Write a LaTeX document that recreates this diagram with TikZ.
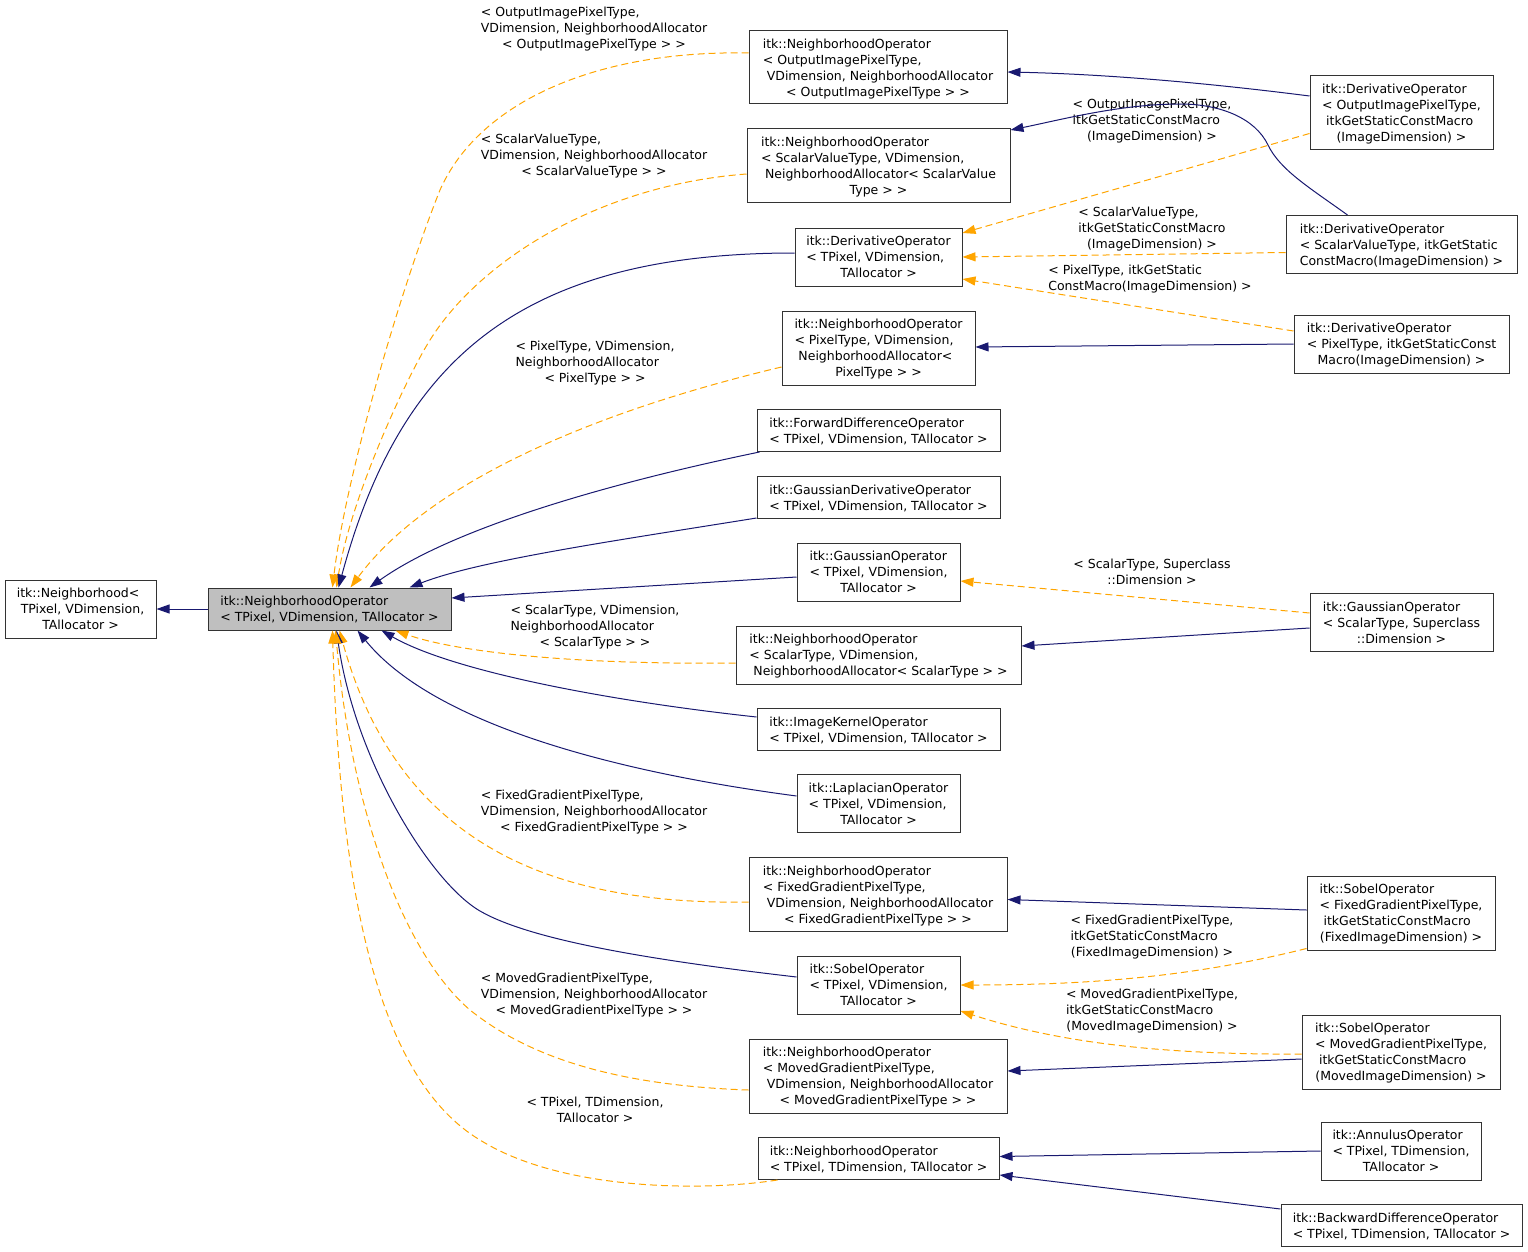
\documentclass[tikz,border=0pt]{standalone}
\usepackage{fontspec}
\newfontfamily\doxfont{DejaVu Sans}
\usepackage{xcolor}
\usetikzlibrary{arrows.meta,calc}
\definecolor{edgeblue}{HTML}{191970}
\definecolor{edgeorange}{HTML}{FFA500}
\definecolor{boxgray}{HTML}{BFBFBF}
% left aligned lines, last line centred
\newcommand{\dlab}[2]{\raisebox{-4.6pt}[0pt][0pt]{\begin{tabular}{@{}l@{}}#1\\\multicolumn{1}{@{}c@{}}{#2}\end{tabular}}}

\begin{document}
\begin{tikzpicture}[
    x=1pt, y=-1pt,
    font=\doxfont\fontsize{12.5}{16}\selectfont,
    classbox/.style={rectangle, draw=black!80, fill=white, line width=1pt, inner sep=0pt},
    basebox/.style={classbox, fill=boxgray},
    edgelabel/.style={inner sep=0pt},
    inherit/.style={-{Triangle[length=13pt,width=9pt]}, color=edgeblue, line width=1pt},
    instance/.style={inherit, color=edgeorange, dash pattern=on 7pt off 4pt}
]
\useasboundingbox (0,0) rectangle (1528,1252);

% base classes
\node[classbox, minimum width=151, minimum height=58] (nbh) at (80.5,609) {\dlab{itk::Neighborhood<\\\ TPixel, VDimension,}{TAllocator >}};
\node[basebox, minimum width=243, minimum height=42] (nbop) at (329.5,609) {\dlab{itk::NeighborhoodOperator}{< TPixel, VDimension, TAllocator >}};

% middle column
\node[classbox, minimum width=258, minimum height=73] (nbopOut) at (878,67.5) {\dlab{itk::NeighborhoodOperator\\< OutputImagePixelType,\\\ VDimension, NeighborhoodAllocator}{< OutputImagePixelType > >}};
\node[classbox, minimum width=263, minimum height=74] (nbopSV) at (878.5,166) {\dlab{itk::NeighborhoodOperator\\< ScalarValueType, VDimension,\\\ NeighborhoodAllocator< ScalarValue}{Type > >}};
\node[classbox, minimum width=167, minimum height=58] (derivT) at (878.5,257) {\dlab{itk::DerivativeOperator\\< TPixel, VDimension,}{TAllocator >}};
\node[classbox, minimum width=193, minimum height=74] (nbopPix) at (878.5,348) {\dlab{itk::NeighborhoodOperator\\< PixelType, VDimension,\\\ NeighborhoodAllocator<}{PixelType > >}};
\node[classbox, minimum width=243, minimum height=42] (fwdDiff) at (878.5,430.5) {\dlab{itk::ForwardDifferenceOperator}{< TPixel, VDimension, TAllocator >}};
\node[classbox, minimum width=243, minimum height=42] (gaussDeriv) at (878.5,497.5) {\dlab{itk::GaussianDerivativeOperator}{< TPixel, VDimension, TAllocator >}};
\node[classbox, minimum width=163, minimum height=58] (gaussT) at (878.5,572) {\dlab{itk::GaussianOperator\\< TPixel, VDimension,}{TAllocator >}};
\node[classbox, minimum width=285, minimum height=58] (nbopScal) at (878.5,655) {\dlab{itk::NeighborhoodOperator\\< ScalarType, VDimension,}{\ NeighborhoodAllocator< ScalarType > >}};
\node[classbox, minimum width=243, minimum height=42] (kernelOp) at (878.5,729.5) {\dlab{itk::ImageKernelOperator}{< TPixel, VDimension, TAllocator >}};
\node[classbox, minimum width=163, minimum height=58] (laplace) at (878.5,803.5) {\dlab{itk::LaplacianOperator\\< TPixel, VDimension,}{TAllocator >}};
\node[classbox, minimum width=258, minimum height=74] (nbopFixed) at (878,894.5) {\dlab{itk::NeighborhoodOperator\\< FixedGradientPixelType,\\\ VDimension, NeighborhoodAllocator}{< FixedGradientPixelType > >}};
\node[classbox, minimum width=163, minimum height=58] (sobelT) at (878.5,985) {\dlab{itk::SobelOperator\\< TPixel, VDimension,}{TAllocator >}};
\node[classbox, minimum width=258, minimum height=74] (nbopMoved) at (878,1076) {\dlab{itk::NeighborhoodOperator\\< MovedGradientPixelType,\\\ VDimension, NeighborhoodAllocator}{< MovedGradientPixelType > >}};
\node[classbox, minimum width=241, minimum height=42] (nbopTDim) at (878.5,1158.5) {\dlab{itk::NeighborhoodOperator}{< TPixel, TDimension, TAllocator >}};

% right column
\node[classbox, minimum width=183, minimum height=74] (derivOut) at (1401.5,112.5) {\dlab{itk::DerivativeOperator\\< OutputImagePixelType,\\\ itkGetStaticConstMacro}{(ImageDimension) >}};
\node[classbox, minimum width=231, minimum height=58] (derivSV) at (1401.5,244.5) {\dlab{itk::DerivativeOperator\\< ScalarValueType, itkGetStatic}{ConstMacro(ImageDimension) >}};
\node[classbox, minimum width=215, minimum height=58] (derivPix) at (1401.5,344) {\dlab{itk::DerivativeOperator\\< PixelType, itkGetStaticConst}{Macro(ImageDimension) >}};
\node[classbox, minimum width=183, minimum height=58] (gaussScal) at (1401.5,622.5) {\dlab{itk::GaussianOperator\\< ScalarType, Superclass}{::Dimension >}};
\node[classbox, minimum width=188, minimum height=74] (sobelFixed) at (1401,913) {\dlab{itk::SobelOperator\\< FixedGradientPixelType,\\\ itkGetStaticConstMacro}{(FixedImageDimension) >}};
\node[classbox, minimum width=198, minimum height=74] (sobelMoved) at (1401,1052) {\dlab{itk::SobelOperator\\< MovedGradientPixelType,\\\ itkGetStaticConstMacro}{(MovedImageDimension) >}};
\node[classbox, minimum width=160, minimum height=58] (annulus) at (1401,1151) {\dlab{itk::AnnulusOperator\\< TPixel, TDimension,}{TAllocator >}};
\node[classbox, minimum width=241, minimum height=42] (bwdDiff) at (1401.5,1225.5) {\dlab{itk::BackwardDifferenceOperator}{< TPixel, TDimension, TAllocator >}};

% template arguments
\node[edgelabel] (lblOut) at (594,28) {\dlab{< OutputImagePixelType,\\VDimension, NeighborhoodAllocator}{< OutputImagePixelType > >}};
\node[edgelabel] (lblSV) at (594,155) {\dlab{< ScalarValueType,\\VDimension, NeighborhoodAllocator}{< ScalarValueType > >}};
\node[edgelabel] (lblPix) at (595,362) {\dlab{< PixelType, VDimension,\\NeighborhoodAllocator}{< PixelType > >}};
\node[edgelabel] (lblScal) at (595,626) {\dlab{< ScalarType, VDimension,\\NeighborhoodAllocator}{< ScalarType > >}};
\node[edgelabel] (lblFixed) at (594,811) {\dlab{< FixedGradientPixelType,\\VDimension, NeighborhoodAllocator}{< FixedGradientPixelType > >}};
\node[edgelabel] (lblMoved) at (594,994) {\dlab{< MovedGradientPixelType,\\VDimension, NeighborhoodAllocator}{< MovedGradientPixelType > >}};
\node[edgelabel] (lblTDim) at (595,1110) {\dlab{< TPixel, TDimension,}{TAllocator >}};
\node[edgelabel] (lblDOut) at (1152,120) {\dlab{< OutputImagePixelType,\\itkGetStaticConstMacro}{(ImageDimension) >}};
\node[edgelabel] (lblDSV) at (1152,228) {\dlab{< ScalarValueType,\\itkGetStaticConstMacro}{(ImageDimension) >}};
\node[edgelabel] (lblDPix) at (1150,278) {\dlab{< PixelType, itkGetStatic}{ConstMacro(ImageDimension) >}};
\node[edgelabel] (lblGauss) at (1152,572) {\dlab{< ScalarType, Superclass}{::Dimension >}};
\node[edgelabel] (lblSFixed) at (1152,936) {\dlab{< FixedGradientPixelType,\\itkGetStaticConstMacro}{(FixedImageDimension) >}};
\node[edgelabel] (lblSMoved) at (1152,1010) {\dlab{< MovedGradientPixelType,\\itkGetStaticConstMacro}{(MovedImageDimension) >}};

% edges to the base class
\draw[inherit] (nbop.west) -- (nbh.east);

% edges into the top of nbop
\draw[instance] ($(nbopOut.west)+(0,-14.5)$) .. controls (600,50) and (480,100) .. (440,190) .. controls (400,290) and (345,480) .. ($(nbop.north west)+(125,0)$);
\draw[instance] ($(nbopSV.west)+(0,8)$) .. controls (600,185) and (480,260) .. (430,340) .. controls (405,380) and (350,500) .. ($(nbop.north west)+(129,0)$);
\draw[inherit] ($(derivT.west)+(0,-4)$) .. controls (520,253) and (400,360) .. ($(nbop.north west)+(131,0)$);
\draw[instance] ($(nbopPix.west)+(0,19)$) .. controls (600,410) and (430,480) .. ($(nbop.north west)+(143,0)$);
\draw[inherit] ($(fwdDiff.south west)+(3,0)$) .. controls (600,485) and (450,530) .. ($(nbop.north west)+(162,0)$);
\draw[inherit] ($(gaussDeriv.south west)+(0,-1)$) .. controls (620,540) and (480,560) .. ($(nbop.north west)+(202,0)$);
\draw[inherit] ($(gaussT.west)+(0,5)$) -- ($(nbop.east)+(0,-11)$);

% edges into the bottom of nbop
\draw[instance] ($(nbopScal.west)+(0,8)$) .. controls (560,665) and (450,650) .. ($(nbop.south west)+(188,0)$);
\draw[inherit] ($(kernelOp.west)+(0,-12.5)$) .. controls (600,700) and (450,670) .. ($(nbop.south west)+(174,0)$);
\draw[inherit] ($(laplace.west)+(0,-7.5)$) .. controls (600,770) and (430,720) .. ($(nbop.south west)+(150,0)$);
\draw[instance] ($(nbopFixed.west)+(0,7.5)$) .. controls (560,905) and (400,850) .. ($(nbop.south west)+(132,0)$);
\draw[inherit] ($(sobelT.west)+(0,-8)$) .. controls (650,960) and (530,940) .. (480,911) .. controls (430,882) and (355,760) .. ($(nbop.south west)+(129,0)$);
\draw[instance] ($(nbopMoved.west)+(0,14)$) .. controls (600,1085) and (520,1050) .. (470,1010) .. controls (400,950) and (350,800) .. ($(nbop.south west)+(128,0)$);
\draw[instance] ($(nbopTDim.south west)+(20,0)$) .. controls (700,1192) and (560,1190) .. (480,1140) .. controls (380,1080) and (340,900) .. ($(nbop.south west)+(125,0)$);

% right column edges
\draw[inherit] ($(derivOut.west)+(0,-16.5)$) .. controls (1200,82) and (1100,74) .. ($(nbopOut.east)+(0,4.5)$);
\draw[inherit] ($(derivSV.north west)+(62,0)$) .. controls (1310,188) and (1280,170) .. (1268,145) .. controls (1255,118) and (1220,104) .. (1180,104) .. controls (1120,104) and (1060,120) .. ($(nbopSV.east)+(0,-36)$);
\draw[instance] ($(derivOut.west)+(0,21)$) -- ($(derivT.east)+(0,-24)$);
\draw[instance] ($(derivSV.west)+(0,8)$) -- (derivT.east);
\draw[instance] ($(derivPix.west)+(0,-13)$) -- ($(derivT.east)+(0,22)$);
\draw[inherit] (derivPix.west) -- ($(nbopPix.east)+(0,-1)$);
\draw[instance] ($(gaussScal.west)+(0,-9.5)$) -- ($(gaussT.east)+(0,9)$);
\draw[inherit] ($(gaussScal.west)+(0,5.5)$) -- ($(nbopScal.east)+(0,-9)$);
\draw[inherit] ($(sobelFixed.west)+(0,-3)$) -- ($(nbopFixed.east)+(0,5)$);
\draw[instance] ($(sobelFixed.south west)+(0,-2)$) .. controls (1200,975) and (1100,985) .. (sobelT.east);
\draw[instance] ($(sobelMoved.west)+(0,2)$) .. controls (1150,1055) and (1050,1040) .. ($(sobelT.east)+(0,26)$);
\draw[inherit] ($(sobelMoved.west)+(0,7)$) -- ($(nbopMoved.east)+(0,-5)$);
\draw[inherit] (annulus.west) -- ($(nbopTDim.east)+(0,-2)$);
\draw[inherit] ($(bwdDiff.north west)+(0,5)$) -- ($(nbopTDim.east)+(0,16.5)$);

\end{tikzpicture}
\end{document}
